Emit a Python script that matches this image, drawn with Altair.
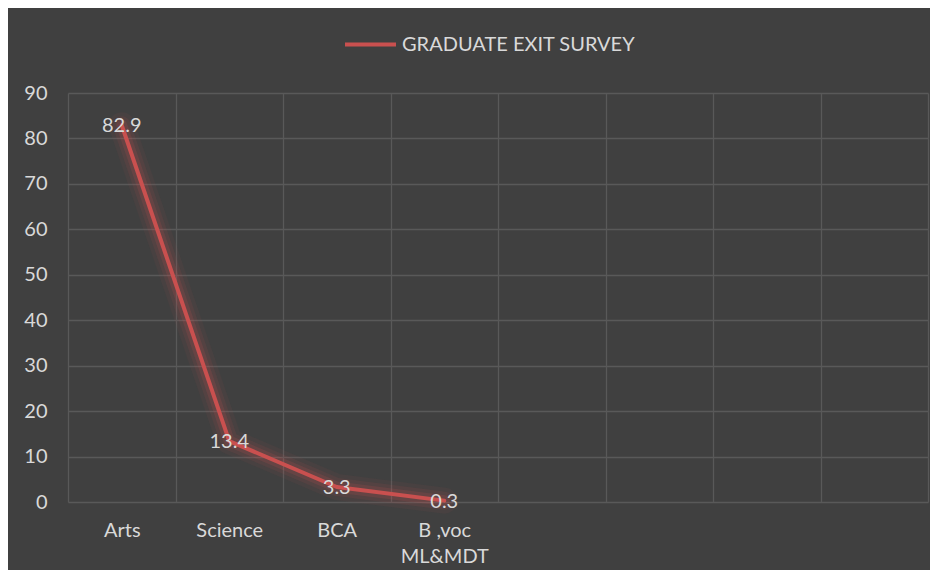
import altair as alt
import pandas as pd

categories = ["Arts", "Science", "BCA", "B ,voc|ML&MDT"]
values = [82.9, 13.4, 3.3, 0.3]
empty_slots = ["_5", "_6", "_7", "_8"]
series_name = "GRADUATE EXIT SURVEY"
y_ticks = [0, 10, 20, 30, 40, 50, 60, 70, 80, 90]

df = pd.DataFrame({"cat": categories, "val": values, "series": series_name})
df["label"] = df["val"].map(lambda v: f"{v:g}")

domain = categories + empty_slots
LINE = "#c9504f"
TXT = "#d9d9d9"
FONT = "Lato"
FS = 20

x = alt.X(
    "cat:N",
    scale=alt.Scale(domain=domain, paddingInner=0, paddingOuter=0),
    sort=domain,
    axis=alt.Axis(
        title=None,
        labelExpr="slice(datum.label,0,1)=='_' ? '' : split(datum.label,'|')",
        labelAngle=0,
        ticks=False,
        tickSize=0,
        labelPadding=18,
        labelLineHeight=26,
        domain=False,
        grid=True,
        tickBand="extent",
        gridColor="#595959",
        gridWidth=1.3,
        labelColor=TXT,
        labelFont=FONT,
        labelFontSize=FS,
    ),
)
y = alt.Y(
    "val:Q",
    scale=alt.Scale(domain=[0, 90], nice=False),
    axis=alt.Axis(
        title=None,
        values=y_ticks,
        ticks=False,
        tickSize=0,
        labelPadding=21,
        domain=False,
        grid=True,
        gridColor="#595959",
        gridWidth=1.3,
        labelColor=TXT,
        labelFont=FONT,
        labelFontSize=FS,
    ),
)

base = alt.Chart(df).encode(x=x, y=y)

glow0 = base.mark_line(color=LINE, strokeWidth=26, opacity=0.06, strokeJoin="round", strokeCap="round")
glow1 = base.mark_line(color=LINE, strokeWidth=18, opacity=0.10, strokeJoin="round", strokeCap="round")
glow2 = base.mark_line(color=LINE, strokeWidth=11, opacity=0.16, strokeJoin="round", strokeCap="round")
main = base.mark_line(strokeWidth=4, strokeJoin="round", strokeCap="round").encode(
    color=alt.Color(
        "series:N",
        scale=alt.Scale(range=[LINE]),
        legend=alt.Legend(
            title=None,
            orient="none",
            legendX=275,
            legendY=-76,
            symbolType="stroke",
            symbolSize=2601,
            symbolStrokeWidth=4,
            labelColor=TXT,
            labelFont=FONT,
            labelFontSize=FS,
            labelOffset=4,
            labelLimit=400,
        ),
    )
)
labels = base.mark_text(color=TXT, font=FONT, fontSize=FS, align="center", baseline="middle", dy=1).encode(
    text="label:N"
)

chart = (
    alt.layer(glow0, glow1, glow2, main, labels)
    .properties(
        width=860,
        height=409,
        autosize=alt.AutoSizeParams(type="none"),
        padding={"left": 60, "top": 85, "right": 2, "bottom": 68},
        background="#404040",
    )
    .configure_view(stroke=None)
)

chart.save("out.html", embed_options={"renderer": "svg", "actions": False})
